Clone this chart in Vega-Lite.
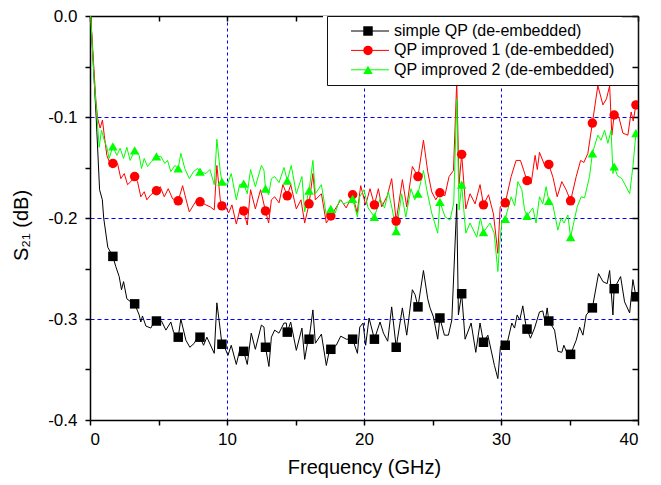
{
"$schema": "https://vega.github.io/schema/vega-lite/v6.json",
"width": 548, "height": 404,
"autosize": {"type": "none"},
"padding": {"left": 90, "top": 16, "right": 23, "bottom": 65},
"background": "white",
"config": {"view": {"stroke": null}, "font": "Liberation Sans"},
"datasets": {
"lines": [
{"series":"simple QP (de-embedded)","f":0.05,"v":0.0},{"series":"simple QP (de-embedded)","f":0.45,"v":-0.100},{"series":"simple QP (de-embedded)","f":0.70,"v":-0.172},{"series":"simple QP (de-embedded)","f":0.90,"v":-0.182},{"series":"simple QP (de-embedded)","f":1.00,"v":-0.200},{"series":"simple QP (de-embedded)","f":1.30,"v":-0.229},{"series":"simple QP (de-embedded)","f":1.67,"v":-0.238},{"series":"simple QP (de-embedded)","f":1.88,"v":-0.248},{"series":"simple QP (de-embedded)","f":2.13,"v":-0.258},{"series":"simple QP (de-embedded)","f":2.30,"v":-0.271},{"series":"simple QP (de-embedded)","f":2.45,"v":-0.263},{"series":"simple QP (de-embedded)","f":2.69,"v":-0.280},{"series":"simple QP (de-embedded)","f":2.98,"v":-0.283},{"series":"simple QP (de-embedded)","f":3.26,"v":-0.285},{"series":"simple QP (de-embedded)","f":3.59,"v":-0.296},{"series":"simple QP (de-embedded)","f":3.71,"v":-0.303},{"series":"simple QP (de-embedded)","f":3.83,"v":-0.297},{"series":"simple QP (de-embedded)","f":4.08,"v":-0.307},{"series":"simple QP (de-embedded)","f":4.44,"v":-0.309},{"series":"simple QP (de-embedded)","f":4.56,"v":-0.306},{"series":"simple QP (de-embedded)","f":4.85,"v":-0.302},{"series":"simple QP (de-embedded)","f":5.22,"v":-0.302},{"series":"simple QP (de-embedded)","f":5.54,"v":-0.311},{"series":"simple QP (de-embedded)","f":5.90,"v":-0.303},{"series":"simple QP (de-embedded)","f":6.10,"v":-0.313},{"series":"simple QP (de-embedded)","f":6.44,"v":-0.318},{"series":"simple QP (de-embedded)","f":6.63,"v":-0.300},{"series":"simple QP (de-embedded)","f":7.00,"v":-0.321},{"series":"simple QP (de-embedded)","f":7.29,"v":-0.328},{"series":"simple QP (de-embedded)","f":7.61,"v":-0.324},{"series":"simple QP (de-embedded)","f":7.85,"v":-0.318},{"series":"simple QP (de-embedded)","f":8.03,"v":-0.318},{"series":"simple QP (de-embedded)","f":8.29,"v":-0.326},{"series":"simple QP (de-embedded)","f":8.53,"v":-0.318},{"series":"simple QP (de-embedded)","f":9.07,"v":-0.334},{"series":"simple QP (de-embedded)","f":9.26,"v":-0.284},{"series":"simple QP (de-embedded)","f":9.51,"v":-0.311},{"series":"simple QP (de-embedded)","f":9.63,"v":-0.325},{"series":"simple QP (de-embedded)","f":9.83,"v":-0.328},{"series":"simple QP (de-embedded)","f":10.07,"v":-0.336},{"series":"simple QP (de-embedded)","f":10.31,"v":-0.326},{"series":"simple QP (de-embedded)","f":10.68,"v":-0.345},{"series":"simple QP (de-embedded)","f":10.92,"v":-0.331},{"series":"simple QP (de-embedded)","f":11.22,"v":-0.332},{"series":"simple QP (de-embedded)","f":11.48,"v":-0.345},{"series":"simple QP (de-embedded)","f":11.77,"v":-0.314},{"series":"simple QP (de-embedded)","f":12.07,"v":-0.330},{"series":"simple QP (de-embedded)","f":12.51,"v":-0.306},{"series":"simple QP (de-embedded)","f":12.70,"v":-0.308},{"series":"simple QP (de-embedded)","f":12.81,"v":-0.328},{"series":"simple QP (de-embedded)","f":13.06,"v":-0.347},{"series":"simple QP (de-embedded)","f":13.24,"v":-0.318},{"series":"simple QP (de-embedded)","f":13.48,"v":-0.311},{"series":"simple QP (de-embedded)","f":13.79,"v":-0.314},{"series":"simple QP (de-embedded)","f":14.16,"v":-0.304},{"series":"simple QP (de-embedded)","f":14.33,"v":-0.304},{"series":"simple QP (de-embedded)","f":14.40,"v":-0.313},{"series":"simple QP (de-embedded)","f":14.65,"v":-0.303},{"series":"simple QP (de-embedded)","f":15.06,"v":-0.331},{"series":"simple QP (de-embedded)","f":15.47,"v":-0.309},{"series":"simple QP (de-embedded)","f":15.67,"v":-0.340},{"series":"simple QP (de-embedded)","f":15.91,"v":-0.321},{"series":"simple QP (de-embedded)","f":15.99,"v":-0.320},{"series":"simple QP (de-embedded)","f":16.27,"v":-0.291},{"series":"simple QP (de-embedded)","f":16.45,"v":-0.324},{"series":"simple QP (de-embedded)","f":16.89,"v":-0.315},{"series":"simple QP (de-embedded)","f":17.25,"v":-0.346},{"series":"simple QP (de-embedded)","f":17.49,"v":-0.330},{"series":"simple QP (de-embedded)","f":17.58,"v":-0.330},{"series":"simple QP (de-embedded)","f":17.98,"v":-0.326},{"series":"simple QP (de-embedded)","f":18.30,"v":-0.317},{"series":"simple QP (de-embedded)","f":18.71,"v":-0.320},{"series":"simple QP (de-embedded)","f":19.03,"v":-0.320},{"series":"simple QP (de-embedded)","f":19.17,"v":-0.320},{"series":"simple QP (de-embedded)","f":19.52,"v":-0.334},{"series":"simple QP (de-embedded)","f":19.69,"v":-0.308},{"series":"simple QP (de-embedded)","f":19.93,"v":-0.304},{"series":"simple QP (de-embedded)","f":20.12,"v":-0.326},{"series":"simple QP (de-embedded)","f":20.37,"v":-0.299},{"series":"simple QP (de-embedded)","f":20.76,"v":-0.320},{"series":"simple QP (de-embedded)","f":21.17,"v":-0.303},{"series":"simple QP (de-embedded)","f":21.42,"v":-0.314},{"series":"simple QP (de-embedded)","f":21.73,"v":-0.322},{"series":"simple QP (de-embedded)","f":22.02,"v":-0.288},{"series":"simple QP (de-embedded)","f":22.35,"v":-0.328},{"series":"simple QP (de-embedded)","f":22.80,"v":-0.289},{"series":"simple QP (de-embedded)","f":23.12,"v":-0.316},{"series":"simple QP (de-embedded)","f":23.53,"v":-0.271},{"series":"simple QP (de-embedded)","f":23.73,"v":-0.276},{"series":"simple QP (de-embedded)","f":23.94,"v":-0.288},{"series":"simple QP (de-embedded)","f":24.34,"v":-0.252},{"series":"simple QP (de-embedded)","f":24.65,"v":-0.280},{"series":"simple QP (de-embedded)","f":24.82,"v":-0.289},{"series":"simple QP (de-embedded)","f":25.07,"v":-0.298},{"series":"simple QP (de-embedded)","f":25.38,"v":-0.320},{"series":"simple QP (de-embedded)","f":25.54,"v":-0.299},{"series":"simple QP (de-embedded)","f":25.87,"v":-0.316},{"series":"simple QP (de-embedded)","f":26.16,"v":-0.316},{"series":"simple QP (de-embedded)","f":26.41,"v":-0.301},{"series":"simple QP (de-embedded)","f":26.77,"v":-0.186},{"series":"simple QP (de-embedded)","f":26.89,"v":-0.296},{"series":"simple QP (de-embedded)","f":27.13,"v":-0.275},{"series":"simple QP (de-embedded)","f":27.38,"v":-0.320},{"series":"simple QP (de-embedded)","f":27.82,"v":-0.304},{"series":"simple QP (de-embedded)","f":28.16,"v":-0.333},{"series":"simple QP (de-embedded)","f":28.47,"v":-0.304},{"series":"simple QP (de-embedded)","f":28.72,"v":-0.323},{"series":"simple QP (de-embedded)","f":29.04,"v":-0.316},{"series":"simple QP (de-embedded)","f":29.52,"v":-0.346},{"series":"simple QP (de-embedded)","f":29.77,"v":-0.359},{"series":"simple QP (de-embedded)","f":29.96,"v":-0.327},{"series":"simple QP (de-embedded)","f":30.31,"v":-0.326},{"series":"simple QP (de-embedded)","f":30.50,"v":-0.321},{"series":"simple QP (de-embedded)","f":30.79,"v":-0.304},{"series":"simple QP (de-embedded)","f":30.99,"v":-0.309},{"series":"simple QP (de-embedded)","f":31.18,"v":-0.296},{"series":"simple QP (de-embedded)","f":31.37,"v":-0.301},{"series":"simple QP (de-embedded)","f":31.59,"v":-0.287},{"series":"simple QP (de-embedded)","f":31.79,"v":-0.304},{"series":"simple QP (de-embedded)","f":31.90,"v":-0.310},{"series":"simple QP (de-embedded)","f":32.15,"v":-0.319},{"series":"simple QP (de-embedded)","f":32.45,"v":-0.309},{"series":"simple QP (de-embedded)","f":32.81,"v":-0.293},{"series":"simple QP (de-embedded)","f":33.05,"v":-0.292},{"series":"simple QP (de-embedded)","f":33.22,"v":-0.303},{"series":"simple QP (de-embedded)","f":33.37,"v":-0.289},{"series":"simple QP (de-embedded)","f":33.49,"v":-0.302},{"series":"simple QP (de-embedded)","f":33.91,"v":-0.311},{"series":"simple QP (de-embedded)","f":34.15,"v":-0.332},{"series":"simple QP (de-embedded)","f":34.44,"v":-0.333},{"series":"simple QP (de-embedded)","f":34.59,"v":-0.326},{"series":"simple QP (de-embedded)","f":34.83,"v":-0.334},{"series":"simple QP (de-embedded)","f":35.08,"v":-0.335},{"series":"simple QP (de-embedded)","f":35.49,"v":-0.321},{"series":"simple QP (de-embedded)","f":35.74,"v":-0.308},{"series":"simple QP (de-embedded)","f":35.98,"v":-0.316},{"series":"simple QP (de-embedded)","f":36.22,"v":-0.296},{"series":"simple QP (de-embedded)","f":36.67,"v":-0.289},{"series":"simple QP (de-embedded)","f":37.12,"v":-0.255},{"series":"simple QP (de-embedded)","f":37.44,"v":-0.263},{"series":"simple QP (de-embedded)","f":37.75,"v":-0.265},{"series":"simple QP (de-embedded)","f":37.93,"v":-0.252},{"series":"simple QP (de-embedded)","f":38.17,"v":-0.296},{"series":"simple QP (de-embedded)","f":38.26,"v":-0.270},{"series":"simple QP (de-embedded)","f":38.73,"v":-0.258},{"series":"simple QP (de-embedded)","f":39.02,"v":-0.283},{"series":"simple QP (de-embedded)","f":39.39,"v":-0.294},{"series":"simple QP (de-embedded)","f":39.63,"v":-0.261},{"series":"simple QP (de-embedded)","f":39.85,"v":-0.278},
{"series":"QP improved 1 (de-embedded)","f":0.05,"v":0.0},{"series":"QP improved 1 (de-embedded)","f":0.42,"v":-0.082},{"series":"QP improved 1 (de-embedded)","f":0.55,"v":-0.101},{"series":"QP improved 1 (de-embedded)","f":0.74,"v":-0.111},{"series":"QP improved 1 (de-embedded)","f":0.91,"v":-0.103},{"series":"QP improved 1 (de-embedded)","f":1.04,"v":-0.118},{"series":"QP improved 1 (de-embedded)","f":1.23,"v":-0.138},{"series":"QP improved 1 (de-embedded)","f":1.40,"v":-0.144},{"series":"QP improved 1 (de-embedded)","f":1.67,"v":-0.146},{"series":"QP improved 1 (de-embedded)","f":2.01,"v":-0.146},{"series":"QP improved 1 (de-embedded)","f":2.25,"v":-0.161},{"series":"QP improved 1 (de-embedded)","f":2.50,"v":-0.156},{"series":"QP improved 1 (de-embedded)","f":2.74,"v":-0.167},{"series":"QP improved 1 (de-embedded)","f":2.98,"v":-0.164},{"series":"QP improved 1 (de-embedded)","f":3.26,"v":-0.159},{"series":"QP improved 1 (de-embedded)","f":3.47,"v":-0.164},{"series":"QP improved 1 (de-embedded)","f":3.71,"v":-0.179},{"series":"QP improved 1 (de-embedded)","f":3.96,"v":-0.174},{"series":"QP improved 1 (de-embedded)","f":4.15,"v":-0.182},{"series":"QP improved 1 (de-embedded)","f":4.44,"v":-0.177},{"series":"QP improved 1 (de-embedded)","f":4.85,"v":-0.173},{"series":"QP improved 1 (de-embedded)","f":5.13,"v":-0.169},{"series":"QP improved 1 (de-embedded)","f":5.42,"v":-0.179},{"series":"QP improved 1 (de-embedded)","f":5.71,"v":-0.171},{"series":"QP improved 1 (de-embedded)","f":6.03,"v":-0.181},{"series":"QP improved 1 (de-embedded)","f":6.44,"v":-0.183},{"series":"QP improved 1 (de-embedded)","f":6.76,"v":-0.168},{"series":"QP improved 1 (de-embedded)","f":7.00,"v":-0.181},{"series":"QP improved 1 (de-embedded)","f":7.25,"v":-0.194},{"series":"QP improved 1 (de-embedded)","f":7.56,"v":-0.187},{"series":"QP improved 1 (de-embedded)","f":7.85,"v":-0.181},{"series":"QP improved 1 (de-embedded)","f":8.03,"v":-0.184},{"series":"QP improved 1 (de-embedded)","f":8.46,"v":-0.187},{"series":"QP improved 1 (de-embedded)","f":8.78,"v":-0.189},{"series":"QP improved 1 (de-embedded)","f":9.07,"v":-0.192},{"series":"QP improved 1 (de-embedded)","f":9.26,"v":-0.148},{"series":"QP improved 1 (de-embedded)","f":9.51,"v":-0.182},{"series":"QP improved 1 (de-embedded)","f":9.63,"v":-0.188},{"series":"QP improved 1 (de-embedded)","f":9.83,"v":-0.187},{"series":"QP improved 1 (de-embedded)","f":10.12,"v":-0.195},{"series":"QP improved 1 (de-embedded)","f":10.36,"v":-0.187},{"series":"QP improved 1 (de-embedded)","f":10.68,"v":-0.206},{"series":"QP improved 1 (de-embedded)","f":10.99,"v":-0.189},{"series":"QP improved 1 (de-embedded)","f":11.22,"v":-0.193},{"series":"QP improved 1 (de-embedded)","f":11.48,"v":-0.207},{"series":"QP improved 1 (de-embedded)","f":11.72,"v":-0.172},{"series":"QP improved 1 (de-embedded)","f":12.07,"v":-0.191},{"series":"QP improved 1 (de-embedded)","f":12.45,"v":-0.172},{"series":"QP improved 1 (de-embedded)","f":12.81,"v":-0.193},{"series":"QP improved 1 (de-embedded)","f":13.04,"v":-0.205},{"series":"QP improved 1 (de-embedded)","f":13.24,"v":-0.182},{"series":"QP improved 1 (de-embedded)","f":13.48,"v":-0.179},{"series":"QP improved 1 (de-embedded)","f":13.80,"v":-0.185},{"series":"QP improved 1 (de-embedded)","f":14.08,"v":-0.167},{"series":"QP improved 1 (de-embedded)","f":14.40,"v":-0.178},{"series":"QP improved 1 (de-embedded)","f":14.65,"v":-0.167},{"series":"QP improved 1 (de-embedded)","f":15.06,"v":-0.191},{"series":"QP improved 1 (de-embedded)","f":15.40,"v":-0.182},{"series":"QP improved 1 (de-embedded)","f":15.67,"v":-0.205},{"series":"QP improved 1 (de-embedded)","f":15.99,"v":-0.186},{"series":"QP improved 1 (de-embedded)","f":16.27,"v":-0.156},{"series":"QP improved 1 (de-embedded)","f":16.45,"v":-0.182},{"series":"QP improved 1 (de-embedded)","f":16.89,"v":-0.176},{"series":"QP improved 1 (de-embedded)","f":17.25,"v":-0.205},{"series":"QP improved 1 (de-embedded)","f":17.58,"v":-0.198},{"series":"QP improved 1 (de-embedded)","f":17.95,"v":-0.190},{"series":"QP improved 1 (de-embedded)","f":18.30,"v":-0.182},{"series":"QP improved 1 (de-embedded)","f":18.70,"v":-0.190},{"series":"QP improved 1 (de-embedded)","f":19.17,"v":-0.177},{"series":"QP improved 1 (de-embedded)","f":19.50,"v":-0.195},{"series":"QP improved 1 (de-embedded)","f":19.76,"v":-0.168},{"series":"QP improved 1 (de-embedded)","f":20.12,"v":-0.187},{"series":"QP improved 1 (de-embedded)","f":20.44,"v":-0.171},{"series":"QP improved 1 (de-embedded)","f":20.76,"v":-0.187},{"series":"QP improved 1 (de-embedded)","f":21.05,"v":-0.171},{"series":"QP improved 1 (de-embedded)","f":21.29,"v":-0.189},{"series":"QP improved 1 (de-embedded)","f":21.70,"v":-0.178},{"series":"QP improved 1 (de-embedded)","f":22.02,"v":-0.161},{"series":"QP improved 1 (de-embedded)","f":22.35,"v":-0.203},{"series":"QP improved 1 (de-embedded)","f":22.80,"v":-0.162},{"series":"QP improved 1 (de-embedded)","f":23.12,"v":-0.189},{"series":"QP improved 1 (de-embedded)","f":23.53,"v":-0.149},{"series":"QP improved 1 (de-embedded)","f":23.94,"v":-0.159},{"series":"QP improved 1 (de-embedded)","f":24.34,"v":-0.123},{"series":"QP improved 1 (de-embedded)","f":24.65,"v":-0.154},{"series":"QP improved 1 (de-embedded)","f":24.94,"v":-0.174},{"series":"QP improved 1 (de-embedded)","f":25.24,"v":-0.182},{"series":"QP improved 1 (de-embedded)","f":25.54,"v":-0.175},{"series":"QP improved 1 (de-embedded)","f":25.90,"v":-0.178},{"series":"QP improved 1 (de-embedded)","f":26.21,"v":-0.159},{"series":"QP improved 1 (de-embedded)","f":26.53,"v":-0.153},{"series":"QP improved 1 (de-embedded)","f":26.77,"v":-0.065},{"series":"QP improved 1 (de-embedded)","f":26.94,"v":-0.166},{"series":"QP improved 1 (de-embedded)","f":27.13,"v":-0.137},{"series":"QP improved 1 (de-embedded)","f":27.43,"v":-0.191},{"series":"QP improved 1 (de-embedded)","f":27.74,"v":-0.176},{"series":"QP improved 1 (de-embedded)","f":28.11,"v":-0.186},{"series":"QP improved 1 (de-embedded)","f":28.47,"v":-0.167},{"series":"QP improved 1 (de-embedded)","f":28.72,"v":-0.187},{"series":"QP improved 1 (de-embedded)","f":29.09,"v":-0.177},{"series":"QP improved 1 (de-embedded)","f":29.45,"v":-0.196},{"series":"QP improved 1 (de-embedded)","f":29.77,"v":-0.235},{"series":"QP improved 1 (de-embedded)","f":29.94,"v":-0.189},{"series":"QP improved 1 (de-embedded)","f":30.31,"v":-0.185},{"series":"QP improved 1 (de-embedded)","f":30.74,"v":-0.159},{"series":"QP improved 1 (de-embedded)","f":31.10,"v":-0.143},{"series":"QP improved 1 (de-embedded)","f":31.42,"v":-0.143},{"series":"QP improved 1 (de-embedded)","f":31.66,"v":-0.153},{"series":"QP improved 1 (de-embedded)","f":31.90,"v":-0.163},{"series":"QP improved 1 (de-embedded)","f":32.20,"v":-0.166},{"series":"QP improved 1 (de-embedded)","f":32.49,"v":-0.138},{"series":"QP improved 1 (de-embedded)","f":32.65,"v":-0.152},{"series":"QP improved 1 (de-embedded)","f":32.81,"v":-0.135},{"series":"QP improved 1 (de-embedded)","f":33.22,"v":-0.149},{"series":"QP improved 1 (de-embedded)","f":33.49,"v":-0.147},{"series":"QP improved 1 (de-embedded)","f":33.80,"v":-0.160},{"series":"QP improved 1 (de-embedded)","f":34.10,"v":-0.179},{"series":"QP improved 1 (de-embedded)","f":34.44,"v":-0.164},{"series":"QP improved 1 (de-embedded)","f":34.75,"v":-0.172},{"series":"QP improved 1 (de-embedded)","f":35.08,"v":-0.183},{"series":"QP improved 1 (de-embedded)","f":35.49,"v":-0.159},{"series":"QP improved 1 (de-embedded)","f":35.81,"v":-0.143},{"series":"QP improved 1 (de-embedded)","f":36.05,"v":-0.145},{"series":"QP improved 1 (de-embedded)","f":36.34,"v":-0.136},{"series":"QP improved 1 (de-embedded)","f":36.67,"v":-0.106},{"series":"QP improved 1 (de-embedded)","f":37.07,"v":-0.069},{"series":"QP improved 1 (de-embedded)","f":37.44,"v":-0.088},{"series":"QP improved 1 (de-embedded)","f":37.70,"v":-0.082},{"series":"QP improved 1 (de-embedded)","f":37.93,"v":-0.069},{"series":"QP improved 1 (de-embedded)","f":38.09,"v":-0.118},{"series":"QP improved 1 (de-embedded)","f":38.26,"v":-0.098},{"series":"QP improved 1 (de-embedded)","f":38.60,"v":-0.100},{"series":"QP improved 1 (de-embedded)","f":38.90,"v":-0.116},{"series":"QP improved 1 (de-embedded)","f":39.26,"v":-0.118},{"series":"QP improved 1 (de-embedded)","f":39.50,"v":-0.095},{"series":"QP improved 1 (de-embedded)","f":39.65,"v":-0.104},{"series":"QP improved 1 (de-embedded)","f":39.85,"v":-0.088},
{"series":"QP improved 2 (de-embedded)","f":0.05,"v":0.0},{"series":"QP improved 2 (de-embedded)","f":0.31,"v":-0.065},{"series":"QP improved 2 (de-embedded)","f":0.50,"v":-0.098},{"series":"QP improved 2 (de-embedded)","f":0.67,"v":-0.130},{"series":"QP improved 2 (de-embedded)","f":0.84,"v":-0.113},{"series":"QP improved 2 (de-embedded)","f":1.04,"v":-0.123},{"series":"QP improved 2 (de-embedded)","f":1.23,"v":-0.130},{"series":"QP improved 2 (de-embedded)","f":1.40,"v":-0.141},{"series":"QP improved 2 (de-embedded)","f":1.67,"v":-0.129},{"series":"QP improved 2 (de-embedded)","f":1.96,"v":-0.138},{"series":"QP improved 2 (de-embedded)","f":2.20,"v":-0.131},{"series":"QP improved 2 (de-embedded)","f":2.45,"v":-0.141},{"series":"QP improved 2 (de-embedded)","f":2.69,"v":-0.130},{"series":"QP improved 2 (de-embedded)","f":2.93,"v":-0.143},{"series":"QP improved 2 (de-embedded)","f":3.26,"v":-0.133},{"series":"QP improved 2 (de-embedded)","f":3.59,"v":-0.138},{"series":"QP improved 2 (de-embedded)","f":3.76,"v":-0.151},{"series":"QP improved 2 (de-embedded)","f":3.96,"v":-0.141},{"series":"QP improved 2 (de-embedded)","f":4.20,"v":-0.149},{"series":"QP improved 2 (de-embedded)","f":4.49,"v":-0.144},{"series":"QP improved 2 (de-embedded)","f":4.85,"v":-0.139},{"series":"QP improved 2 (de-embedded)","f":5.17,"v":-0.139},{"series":"QP improved 2 (de-embedded)","f":5.46,"v":-0.146},{"series":"QP improved 2 (de-embedded)","f":5.66,"v":-0.143},{"series":"QP improved 2 (de-embedded)","f":5.90,"v":-0.154},{"series":"QP improved 2 (de-embedded)","f":6.20,"v":-0.148},{"series":"QP improved 2 (de-embedded)","f":6.44,"v":-0.151},{"series":"QP improved 2 (de-embedded)","f":6.63,"v":-0.136},{"series":"QP improved 2 (de-embedded)","f":6.92,"v":-0.151},{"series":"QP improved 2 (de-embedded)","f":7.25,"v":-0.161},{"series":"QP improved 2 (de-embedded)","f":7.56,"v":-0.154},{"series":"QP improved 2 (de-embedded)","f":7.85,"v":-0.151},{"series":"QP improved 2 (de-embedded)","f":8.03,"v":-0.154},{"series":"QP improved 2 (de-embedded)","f":8.46,"v":-0.156},{"series":"QP improved 2 (de-embedded)","f":8.75,"v":-0.152},{"series":"QP improved 2 (de-embedded)","f":9.07,"v":-0.167},{"series":"QP improved 2 (de-embedded)","f":9.26,"v":-0.122},{"series":"QP improved 2 (de-embedded)","f":9.51,"v":-0.154},{"series":"QP improved 2 (de-embedded)","f":9.63,"v":-0.164},{"series":"QP improved 2 (de-embedded)","f":10.02,"v":-0.167},{"series":"QP improved 2 (de-embedded)","f":10.31,"v":-0.156},{"series":"QP improved 2 (de-embedded)","f":10.68,"v":-0.182},{"series":"QP improved 2 (de-embedded)","f":10.92,"v":-0.167},{"series":"QP improved 2 (de-embedded)","f":11.22,"v":-0.166},{"series":"QP improved 2 (de-embedded)","f":11.48,"v":-0.176},{"series":"QP improved 2 (de-embedded)","f":11.72,"v":-0.152},{"series":"QP improved 2 (de-embedded)","f":12.07,"v":-0.169},{"series":"QP improved 2 (de-embedded)","f":12.51,"v":-0.148},{"series":"QP improved 2 (de-embedded)","f":12.70,"v":-0.153},{"series":"QP improved 2 (de-embedded)","f":12.81,"v":-0.171},{"series":"QP improved 2 (de-embedded)","f":13.04,"v":-0.177},{"series":"QP improved 2 (de-embedded)","f":13.24,"v":-0.161},{"series":"QP improved 2 (de-embedded)","f":13.48,"v":-0.159},{"series":"QP improved 2 (de-embedded)","f":13.80,"v":-0.165},{"series":"QP improved 2 (de-embedded)","f":14.16,"v":-0.150},{"series":"QP improved 2 (de-embedded)","f":14.40,"v":-0.163},{"series":"QP improved 2 (de-embedded)","f":14.69,"v":-0.148},{"series":"QP improved 2 (de-embedded)","f":15.06,"v":-0.176},{"series":"QP improved 2 (de-embedded)","f":15.47,"v":-0.159},{"series":"QP improved 2 (de-embedded)","f":15.67,"v":-0.194},{"series":"QP improved 2 (de-embedded)","f":15.91,"v":-0.177},{"series":"QP improved 2 (de-embedded)","f":15.99,"v":-0.173},{"series":"QP improved 2 (de-embedded)","f":16.27,"v":-0.143},{"series":"QP improved 2 (de-embedded)","f":16.45,"v":-0.176},{"series":"QP improved 2 (de-embedded)","f":16.89,"v":-0.167},{"series":"QP improved 2 (de-embedded)","f":17.25,"v":-0.197},{"series":"QP improved 2 (de-embedded)","f":17.58,"v":-0.191},{"series":"QP improved 2 (de-embedded)","f":17.90,"v":-0.195},{"series":"QP improved 2 (de-embedded)","f":18.22,"v":-0.182},{"series":"QP improved 2 (de-embedded)","f":18.54,"v":-0.186},{"series":"QP improved 2 (de-embedded)","f":18.85,"v":-0.184},{"series":"QP improved 2 (de-embedded)","f":19.17,"v":-0.181},{"series":"QP improved 2 (de-embedded)","f":19.52,"v":-0.199},{"series":"QP improved 2 (de-embedded)","f":19.69,"v":-0.179},{"series":"QP improved 2 (de-embedded)","f":20.00,"v":-0.172},{"series":"QP improved 2 (de-embedded)","f":20.30,"v":-0.190},{"series":"QP improved 2 (de-embedded)","f":20.76,"v":-0.199},{"series":"QP improved 2 (de-embedded)","f":21.17,"v":-0.181},{"series":"QP improved 2 (de-embedded)","f":21.50,"v":-0.190},{"series":"QP improved 2 (de-embedded)","f":21.78,"v":-0.174},{"series":"QP improved 2 (de-embedded)","f":22.07,"v":-0.192},{"series":"QP improved 2 (de-embedded)","f":22.35,"v":-0.213},{"series":"QP improved 2 (de-embedded)","f":22.75,"v":-0.176},{"series":"QP improved 2 (de-embedded)","f":23.05,"v":-0.199},{"series":"QP improved 2 (de-embedded)","f":23.43,"v":-0.171},{"series":"QP improved 2 (de-embedded)","f":23.70,"v":-0.182},{"series":"QP improved 2 (de-embedded)","f":23.94,"v":-0.176},{"series":"QP improved 2 (de-embedded)","f":24.34,"v":-0.153},{"series":"QP improved 2 (de-embedded)","f":24.58,"v":-0.172},{"series":"QP improved 2 (de-embedded)","f":24.94,"v":-0.195},{"series":"QP improved 2 (de-embedded)","f":25.38,"v":-0.215},{"series":"QP improved 2 (de-embedded)","f":25.54,"v":-0.184},{"series":"QP improved 2 (de-embedded)","f":25.92,"v":-0.199},{"series":"QP improved 2 (de-embedded)","f":26.28,"v":-0.202},{"series":"QP improved 2 (de-embedded)","f":26.55,"v":-0.185},{"series":"QP improved 2 (de-embedded)","f":26.77,"v":-0.082},{"series":"QP improved 2 (de-embedded)","f":26.94,"v":-0.192},{"series":"QP improved 2 (de-embedded)","f":27.13,"v":-0.167},{"series":"QP improved 2 (de-embedded)","f":27.43,"v":-0.215},{"series":"QP improved 2 (de-embedded)","f":27.74,"v":-0.205},{"series":"QP improved 2 (de-embedded)","f":28.23,"v":-0.219},{"series":"QP improved 2 (de-embedded)","f":28.50,"v":-0.200},{"series":"QP improved 2 (de-embedded)","f":28.72,"v":-0.214},{"series":"QP improved 2 (de-embedded)","f":29.20,"v":-0.205},{"series":"QP improved 2 (de-embedded)","f":29.50,"v":-0.215},{"series":"QP improved 2 (de-embedded)","f":29.77,"v":-0.253},{"series":"QP improved 2 (de-embedded)","f":29.89,"v":-0.228},{"series":"QP improved 2 (de-embedded)","f":30.06,"v":-0.204},{"series":"QP improved 2 (de-embedded)","f":30.31,"v":-0.201},{"series":"QP improved 2 (de-embedded)","f":30.74,"v":-0.179},{"series":"QP improved 2 (de-embedded)","f":31.00,"v":-0.188},{"series":"QP improved 2 (de-embedded)","f":31.23,"v":-0.164},{"series":"QP improved 2 (de-embedded)","f":31.52,"v":-0.172},{"series":"QP improved 2 (de-embedded)","f":31.72,"v":-0.192},{"series":"QP improved 2 (de-embedded)","f":31.90,"v":-0.198},{"series":"QP improved 2 (de-embedded)","f":32.32,"v":-0.190},{"series":"QP improved 2 (de-embedded)","f":32.56,"v":-0.205},{"series":"QP improved 2 (de-embedded)","f":32.81,"v":-0.179},{"series":"QP improved 2 (de-embedded)","f":33.05,"v":-0.186},{"series":"QP improved 2 (de-embedded)","f":33.29,"v":-0.169},{"series":"QP improved 2 (de-embedded)","f":33.49,"v":-0.183},{"series":"QP improved 2 (de-embedded)","f":33.80,"v":-0.188},{"series":"QP improved 2 (de-embedded)","f":34.15,"v":-0.212},{"series":"QP improved 2 (de-embedded)","f":34.39,"v":-0.200},{"series":"QP improved 2 (de-embedded)","f":34.60,"v":-0.205},{"series":"QP improved 2 (de-embedded)","f":34.88,"v":-0.197},{"series":"QP improved 2 (de-embedded)","f":35.08,"v":-0.219},{"series":"QP improved 2 (de-embedded)","f":35.56,"v":-0.189},{"series":"QP improved 2 (de-embedded)","f":35.85,"v":-0.179},{"series":"QP improved 2 (de-embedded)","f":36.10,"v":-0.180},{"series":"QP improved 2 (de-embedded)","f":36.46,"v":-0.159},{"series":"QP improved 2 (de-embedded)","f":36.67,"v":-0.136},{"series":"QP improved 2 (de-embedded)","f":37.07,"v":-0.118},{"series":"QP improved 2 (de-embedded)","f":37.30,"v":-0.123},{"series":"QP improved 2 (de-embedded)","f":37.56,"v":-0.113},{"series":"QP improved 2 (de-embedded)","f":37.80,"v":-0.126},{"series":"QP improved 2 (de-embedded)","f":38.04,"v":-0.113},{"series":"QP improved 2 (de-embedded)","f":38.17,"v":-0.156},{"series":"QP improved 2 (de-embedded)","f":38.26,"v":-0.149},{"series":"QP improved 2 (de-embedded)","f":38.50,"v":-0.158},{"series":"QP improved 2 (de-embedded)","f":38.82,"v":-0.161},{"series":"QP improved 2 (de-embedded)","f":39.13,"v":-0.169},{"series":"QP improved 2 (de-embedded)","f":39.39,"v":-0.176},{"series":"QP improved 2 (de-embedded)","f":39.63,"v":-0.149},{"series":"QP improved 2 (de-embedded)","f":39.85,"v":-0.116}
],
"markers": [
{"series":"simple QP (de-embedded)","f":1.67,"v":-0.238},{"series":"simple QP (de-embedded)","f":3.26,"v":-0.285},{"series":"simple QP (de-embedded)","f":4.85,"v":-0.302},{"series":"simple QP (de-embedded)","f":6.44,"v":-0.318},{"series":"simple QP (de-embedded)","f":8.03,"v":-0.318},{"series":"simple QP (de-embedded)","f":9.63,"v":-0.325},{"series":"simple QP (de-embedded)","f":11.22,"v":-0.332},{"series":"simple QP (de-embedded)","f":12.81,"v":-0.328},{"series":"simple QP (de-embedded)","f":14.40,"v":-0.313},{"series":"simple QP (de-embedded)","f":15.99,"v":-0.320},{"series":"simple QP (de-embedded)","f":17.58,"v":-0.330},{"series":"simple QP (de-embedded)","f":19.17,"v":-0.320},{"series":"simple QP (de-embedded)","f":20.76,"v":-0.320},{"series":"simple QP (de-embedded)","f":22.35,"v":-0.328},{"series":"simple QP (de-embedded)","f":23.94,"v":-0.288},{"series":"simple QP (de-embedded)","f":25.54,"v":-0.299},{"series":"simple QP (de-embedded)","f":27.13,"v":-0.275},{"series":"simple QP (de-embedded)","f":28.72,"v":-0.323},{"series":"simple QP (de-embedded)","f":30.31,"v":-0.326},{"series":"simple QP (de-embedded)","f":31.90,"v":-0.310},{"series":"simple QP (de-embedded)","f":33.49,"v":-0.302},{"series":"simple QP (de-embedded)","f":35.08,"v":-0.335},{"series":"simple QP (de-embedded)","f":36.67,"v":-0.289},{"series":"simple QP (de-embedded)","f":38.26,"v":-0.270},{"series":"simple QP (de-embedded)","f":39.85,"v":-0.278},
{"series":"QP improved 1 (de-embedded)","f":1.67,"v":-0.146},{"series":"QP improved 1 (de-embedded)","f":3.26,"v":-0.159},{"series":"QP improved 1 (de-embedded)","f":4.85,"v":-0.173},{"series":"QP improved 1 (de-embedded)","f":6.44,"v":-0.183},{"series":"QP improved 1 (de-embedded)","f":8.03,"v":-0.184},{"series":"QP improved 1 (de-embedded)","f":9.63,"v":-0.188},{"series":"QP improved 1 (de-embedded)","f":11.22,"v":-0.193},{"series":"QP improved 1 (de-embedded)","f":12.81,"v":-0.193},{"series":"QP improved 1 (de-embedded)","f":14.40,"v":-0.178},{"series":"QP improved 1 (de-embedded)","f":15.99,"v":-0.186},{"series":"QP improved 1 (de-embedded)","f":17.58,"v":-0.198},{"series":"QP improved 1 (de-embedded)","f":19.17,"v":-0.177},{"series":"QP improved 1 (de-embedded)","f":20.76,"v":-0.187},{"series":"QP improved 1 (de-embedded)","f":22.35,"v":-0.203},{"series":"QP improved 1 (de-embedded)","f":23.94,"v":-0.159},{"series":"QP improved 1 (de-embedded)","f":25.54,"v":-0.175},{"series":"QP improved 1 (de-embedded)","f":27.13,"v":-0.137},{"series":"QP improved 1 (de-embedded)","f":28.72,"v":-0.187},{"series":"QP improved 1 (de-embedded)","f":30.31,"v":-0.185},{"series":"QP improved 1 (de-embedded)","f":31.90,"v":-0.163},{"series":"QP improved 1 (de-embedded)","f":33.49,"v":-0.147},{"series":"QP improved 1 (de-embedded)","f":35.08,"v":-0.183},{"series":"QP improved 1 (de-embedded)","f":36.67,"v":-0.106},{"series":"QP improved 1 (de-embedded)","f":38.26,"v":-0.098},{"series":"QP improved 1 (de-embedded)","f":39.85,"v":-0.088},
{"series":"QP improved 2 (de-embedded)","f":1.67,"v":-0.129},{"series":"QP improved 2 (de-embedded)","f":3.26,"v":-0.133},{"series":"QP improved 2 (de-embedded)","f":4.85,"v":-0.139},{"series":"QP improved 2 (de-embedded)","f":6.44,"v":-0.151},{"series":"QP improved 2 (de-embedded)","f":8.03,"v":-0.154},{"series":"QP improved 2 (de-embedded)","f":9.63,"v":-0.164},{"series":"QP improved 2 (de-embedded)","f":11.22,"v":-0.166},{"series":"QP improved 2 (de-embedded)","f":12.81,"v":-0.171},{"series":"QP improved 2 (de-embedded)","f":14.40,"v":-0.163},{"series":"QP improved 2 (de-embedded)","f":15.99,"v":-0.173},{"series":"QP improved 2 (de-embedded)","f":17.58,"v":-0.191},{"series":"QP improved 2 (de-embedded)","f":19.17,"v":-0.181},{"series":"QP improved 2 (de-embedded)","f":20.76,"v":-0.199},{"series":"QP improved 2 (de-embedded)","f":22.35,"v":-0.213},{"series":"QP improved 2 (de-embedded)","f":23.94,"v":-0.176},{"series":"QP improved 2 (de-embedded)","f":25.54,"v":-0.184},{"series":"QP improved 2 (de-embedded)","f":27.13,"v":-0.167},{"series":"QP improved 2 (de-embedded)","f":28.72,"v":-0.214},{"series":"QP improved 2 (de-embedded)","f":30.31,"v":-0.201},{"series":"QP improved 2 (de-embedded)","f":31.90,"v":-0.198},{"series":"QP improved 2 (de-embedded)","f":33.49,"v":-0.183},{"series":"QP improved 2 (de-embedded)","f":35.08,"v":-0.219},{"series":"QP improved 2 (de-embedded)","f":36.67,"v":-0.136},{"series":"QP improved 2 (de-embedded)","f":38.26,"v":-0.149},{"series":"QP improved 2 (de-embedded)","f":39.85,"v":-0.116}
]
},
"resolve": {"axis": {"x": "independent", "y": "independent"}},
"layer": [
{
"data": {"name": "lines"},
"mark": {"type": "line", "strokeWidth": 1, "clip": true},
"encoding": {
"x": {"field": "f", "type": "quantitative",
"scale": {"domain": [0, 40], "nice": false, "zero": false},
"axis": {"orient": "bottom", "values": [0,5,10,15,20,25,30,35,40],
"labelExpr": "datum.value % 10 == 0 ? datum.label : ''",
"labelFont": "Liberation Sans", "labelFontSize": 17, "labelColor": "black", "labelPadding": 6,
"tickSize": 5, "tickColor": "black", "tickWidth": 1.5,
"domainColor": "black", "domainWidth": 1.5,
"grid": true, "gridDash": [3, 3], "gridWidth": 1, "gridColor": "#0000ff",
"gridOpacity": {"condition": {"test": "datum.value % 10 == 0 && datum.value > 0 && datum.value < 40", "value": 1}, "value": 0},
"title": "Frequency (GHz)", "titleFont": "Liberation Sans", "titleFontSize": 20, "titleFontWeight": "normal", "titleColor": "black", "titlePadding": 10}},
"y": {"field": "v", "type": "quantitative",
"scale": {"domain": [-0.4, 0], "nice": false, "zero": false},
"axis": {"orient": "left", "values": [-0.4,-0.35,-0.3,-0.25,-0.2,-0.15,-0.1,-0.05,0],
"labelExpr": "abs(round(datum.value*100)) % 10 == 0 ? replace(format(datum.value, '.1f'), '\u2212', '-') : ''",
"labelFont": "Liberation Sans", "labelFontSize": 17, "labelColor": "black", "labelPadding": 8,
"tickSize": 5, "tickColor": "black", "tickWidth": 1.5,
"domainColor": "black", "domainWidth": 1.5,
"grid": true, "gridDash": [4, 3], "gridWidth": 1, "gridColor": "#0000ff",
"gridOpacity": {"condition": {"test": "abs(round(datum.value*100)) % 10 == 0 && datum.value < -0.01 && datum.value > -0.39", "value": 1}, "value": 0},
"title": "S\u2082\u2081 (dB)", "titleFont": "Liberation Sans", "titleFontSize": 20, "titleFontWeight": "normal", "titleColor": "black", "titlePadding": 16, "titleY": 209}},
"stroke": {"field": "series", "type": "nominal",
"sort": ["simple QP (de-embedded)", "QP improved 1 (de-embedded)", "QP improved 2 (de-embedded)"],
"scale": {"range": ["#000000", "#ff0000", "#00ff00"]},
"legend": {"orient": "none", "legendX": 233, "legendY": 0, "title": null, "symbolType": "M-5,0H5", "symbolSize": 57.8, "symbolStrokeWidth": 1,
"padding": 7, "rowPadding": 3.4, "symbolOffset": 32, "labelOffset": 16,
"labelFont": "Liberation Sans", "labelFontSize": 16, "labelColor": "black", "labelLimit": 400,
"fillColor": "white"}}
}
},
{
"data": {"name": "markers"},
"mark": {"type": "point", "filled": true, "opacity": 1, "size": 90, "clip": true},
"encoding": {
"x": {"field": "f", "type": "quantitative",
"axis": {"orient": "top", "values": [0,5,10,15,20,25,30,35,40], "labels": false, "tickSize": -5, "tickColor": "black", "tickWidth": 1.5, "domainColor": "black", "domainWidth": 1.5, "grid": false, "title": null}},
"y": {"field": "v", "type": "quantitative",
"axis": {"orient": "right", "values": [-0.4,-0.35,-0.3,-0.25,-0.2,-0.15,-0.1,-0.05,0], "labels": false, "tickSize": -6, "tickColor": "black", "tickWidth": 1.5, "domainColor": "black", "domainWidth": 1.5, "grid": false, "title": null}},
"color": {"field": "series", "type": "nominal",
"scale": {"domain": ["simple QP (de-embedded)", "QP improved 1 (de-embedded)", "QP improved 2 (de-embedded)"], "range": ["#000000", "#ff0000", "#00ff00"]},
"legend": {"orient": "top-right", "offset": 0, "title": null, "symbolSize": 90, "symbolOffset": 26,
"padding": 7, "rowPadding": 3.4, "labelOffset": 7.3, "labelFont": "Liberation Sans", "labelFontSize": 16, "labelOpacity": 0, "labelLimit": 400,
"labelExpr": "datum.label + 'MM'", "strokeColor": "#111111"}},
"shape": {"field": "series", "type": "nominal",
"scale": {"domain": ["simple QP (de-embedded)", "QP improved 1 (de-embedded)", "QP improved 2 (de-embedded)"], "range": ["square", "circle", "triangle-up"]},
"legend": {"orient": "top-right", "offset": 0, "title": null, "symbolSize": 90, "symbolOffset": 26,
"padding": 7, "rowPadding": 3.4, "labelOffset": 7.3, "labelFont": "Liberation Sans", "labelFontSize": 16, "labelOpacity": 0, "labelLimit": 400,
"labelExpr": "datum.label + 'MM'", "strokeColor": "#111111"}}
}
}
]
}
